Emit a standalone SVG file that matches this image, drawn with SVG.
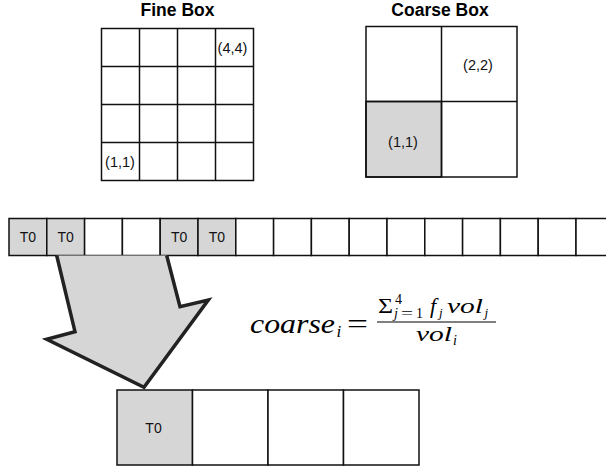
<svg xmlns="http://www.w3.org/2000/svg" width="606" height="467" viewBox="0 0 606 467">
<style>
.cell{fill:#ffffff;stroke:#111;stroke-width:1.5}
.sh{fill:#d6d6d6;stroke:#111;stroke-width:1.5}
.ttl{font-family:"Liberation Sans",Arial,sans-serif;font-weight:bold;font-size:17.5px;fill:#000;text-anchor:middle}
.lbl{font-family:"Liberation Sans",Arial,sans-serif;font-size:14.5px;fill:#111;text-anchor:middle}
.t0{font-family:"Liberation Sans",Arial,sans-serif;font-size:14px;fill:#111;text-anchor:middle}
.m{font-family:"Liberation Serif","Times New Roman",serif;font-style:italic;fill:#000}
.r{font-family:"Liberation Serif","Times New Roman",serif;fill:#000}
</style>
<rect width="606" height="467" fill="#fff"/>
<g id="fine-box">
<text class="ttl" x="177.5" y="16">Fine Box</text>
<g fill="#fff" stroke="#111" stroke-width="1.5">
<rect x="101.5" y="28.5" width="152" height="152"/>
<path d="M139.5 28.5V180.5M177.5 28.5V180.5M215.5 28.5V180.5M101.5 66.5H253.5M101.5 104.5H253.5M101.5 142.5H253.5" fill="none"/>
</g>
<text class="lbl" x="232.5" y="53">(4,4)</text>
<text class="lbl" x="120" y="166.5">(1,1)</text>
</g>
<g id="coarse-box">
<text class="ttl" x="440" y="16">Coarse Box</text>
<rect class="sh" x="366" y="101.5" width="75.5" height="75.5"/>
<rect x="366" y="26.5" width="151" height="150.5" fill="none" stroke="#111" stroke-width="1.5"/>
<path d="M441.5 26.5V177M366 101.5H517" stroke="#111" stroke-width="1.5" fill="none"/>
<text class="lbl" x="478" y="70">(2,2)</text>
<text class="lbl" x="403" y="146.5">(1,1)</text>
</g>
<g id="strip">
<rect class="sh" x="9" y="218.5" width="37.8" height="37"/>
<rect class="sh" x="46.8" y="218.5" width="37.8" height="37"/>
<rect class="cell" x="84.6" y="218.5" width="37.8" height="37"/>
<rect class="cell" x="122.4" y="218.5" width="37.8" height="37"/>
<rect class="sh" x="160.2" y="218.5" width="37.8" height="37"/>
<rect class="sh" x="198" y="218.5" width="37.8" height="37"/>
<rect class="cell" x="235.8" y="218.5" width="37.8" height="37"/>
<rect class="cell" x="273.6" y="218.5" width="37.8" height="37"/>
<rect class="cell" x="311.4" y="218.5" width="37.8" height="37"/>
<rect class="cell" x="349.2" y="218.5" width="37.8" height="37"/>
<rect class="cell" x="387" y="218.5" width="37.8" height="37"/>
<rect class="cell" x="424.8" y="218.5" width="37.8" height="37"/>
<rect class="cell" x="462.6" y="218.5" width="37.8" height="37"/>
<rect class="cell" x="500.4" y="218.5" width="37.8" height="37"/>
<rect class="cell" x="538.2" y="218.5" width="37.8" height="37"/>
<rect class="cell" x="576" y="218.5" width="37.8" height="37"/>
<text class="t0" x="27.9" y="242">T0</text>
<text class="t0" x="65.7" y="242">T0</text>
<text class="t0" x="179.1" y="242">T0</text>
<text class="t0" x="216.9" y="242">T0</text>
</g>
<g id="connectors">
<path d="M56.7 255.5L75 331.7L46.7 339.3L144 387.3L208.3 300L180 306.7L166.7 255.5" fill="#d6d6d6" stroke="#222" stroke-width="3.5" stroke-linejoin="miter"/>
</g>
<g id="result-strip">
<rect class="sh" x="117" y="390" width="75.5" height="75"/>
<rect class="cell" x="192.5" y="390" width="75.5" height="75"/>
<rect class="cell" x="268" y="390" width="75.5" height="75"/>
<rect class="cell" x="343.5" y="390" width="75.5" height="75"/>
<text class="t0" x="153.5" y="433" font-size="15">T0</text>
</g>
<g id="formula">
<text class="m" x="250" y="333" font-size="28" textLength="85" lengthAdjust="spacingAndGlyphs">coarse</text>
<text class="m" x="336.5" y="337" font-size="17">i</text>
<text class="r" x="347" y="333" font-size="28" textLength="21" lengthAdjust="spacingAndGlyphs">=</text>
<text class="r" x="378" y="313" font-size="22" textLength="15" lengthAdjust="spacingAndGlyphs">Σ</text>
<text class="r" x="395" y="304" font-size="14">4</text>
<text class="m" x="394" y="318" font-size="14">j</text>
<text class="r" x="401" y="318" font-size="14" textLength="12" lengthAdjust="spacingAndGlyphs">=</text>
<text class="r" x="416" y="318" font-size="14">1</text>
<text class="m" x="430" y="313" font-size="22">f</text>
<text class="m" x="439" y="317" font-size="13">j</text>
<text class="m" x="447" y="313" font-size="22" textLength="36" lengthAdjust="spacingAndGlyphs">vol</text>
<text class="m" x="484.5" y="317" font-size="13">j</text>
<line x1="377" y1="322" x2="496" y2="322" stroke="#000" stroke-width="1"/>
<text class="m" x="416" y="341" font-size="22" textLength="36" lengthAdjust="spacingAndGlyphs">vol</text>
<text class="m" x="453" y="345" font-size="14">i</text>
</g>
</svg>
